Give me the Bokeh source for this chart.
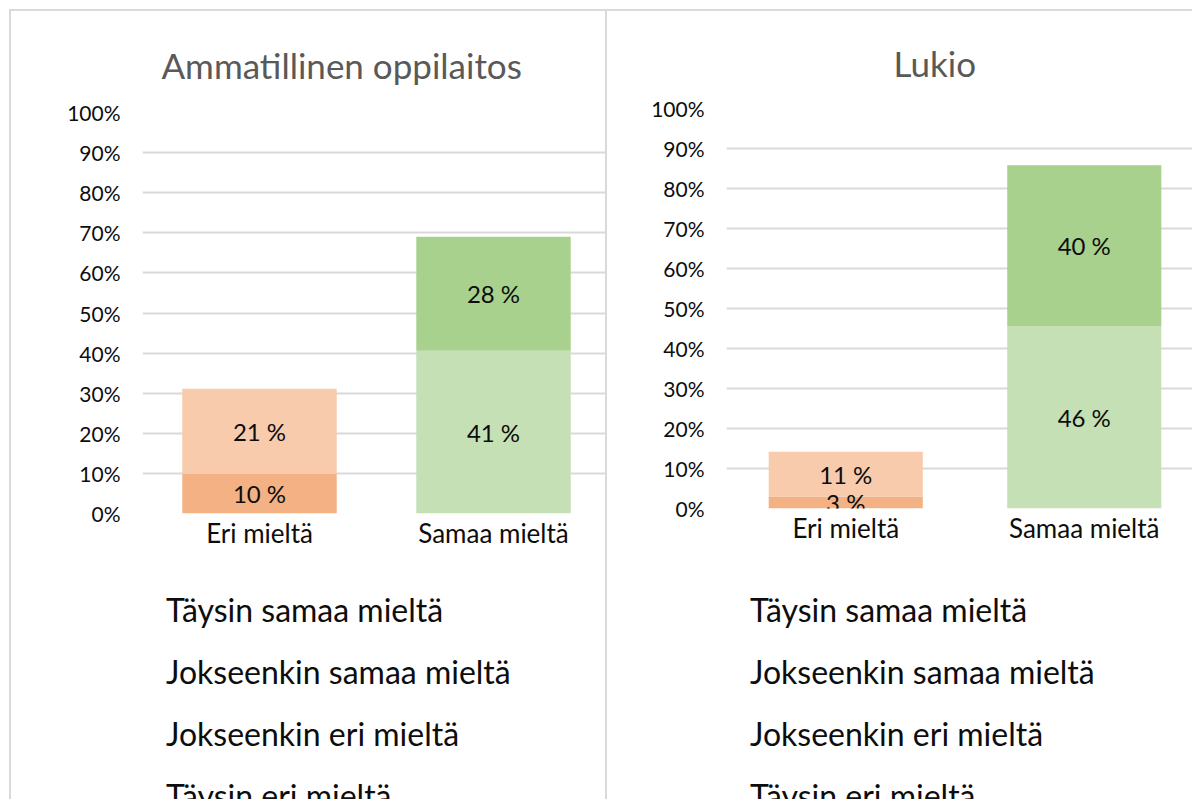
from bokeh.plotting import figure
from bokeh.models import (ColumnDataSource, FactorRange, Range1d, Legend, LegendItem, FixedTicker,
                          Div)
from bokeh.layouts import row, column
from bokeh.core.properties import value
from bokeh.embed import file_html
from bokeh.resources import INLINE

FONT = "Lato"
TXT = "#0d0d0d"

categories = ["Eri mieltä", "Samaa mieltä"]
series = ["Täysin eri mieltä", "Jokseenkin eri mieltä", "Jokseenkin samaa mieltä", "Täysin samaa mieltä"]
colors = ["#f4b183", "#f8cbad", "#c5e0b4", "#a9d18e"]

# Ammatillinen oppilaitos (percent)
amm_taysin_eri = [9.9, 0]
amm_jokseenkin_eri = [21.2, 0]
amm_jokseenkin_samaa = [0, 40.6]
amm_taysin_samaa = [0, 28.4]

# Lukio (percent)
lukio_taysin_eri = [3.0, 0]
lukio_jokseenkin_eri = [11.2, 0]
lukio_jokseenkin_samaa = [0, 45.6]
lukio_taysin_samaa = [0, 40.2]

y_ticks = [0, 10, 20, 30, 40, 50, 60, 70, 80, 90, 100]
y_tick_labels = ["0%", "10%", "20%", "30%", "40%", "50%", "60%", "70%", "80%", "90%", "100%"]

legend_order = [3, 2, 1, 0]   # Täysin samaa, Jokseenkin samaa, Jokseenkin eri, Täysin eri


def make_chart(title, data, fw, fh, bl, br, bt, bb, title_offset, title_standoff, bar_width):
    p = figure(x_range=FactorRange(*categories, range_padding=0), y_range=Range1d(0, 100),
               frame_width=fw, frame_height=fh, output_backend="svg", toolbar_location=None,
               min_border_left=bl, min_border_right=br, min_border_top=bt, min_border_bottom=bb)
    p.outline_line_color = None
    p.background_fill_color = "white"
    p.border_fill_color = "white"

    p.title.text = title
    p.title.align = "left"
    p.title.vertical_align = "bottom"
    p.title.offset = title_offset
    p.title.text_font = FONT
    p.title.text_font_size = "35px"
    p.title.text_font_style = "normal"
    p.title.text_color = "#595959"
    p.title.standoff = title_standoff

    src = ColumnDataSource(dict(cat=categories, **{s: v for s, v in zip(series, data)}))
    p.vbar_stack(series, x="cat", width=bar_width, fill_color=colors,
                 line_color=None, source=src)

    # data labels
    lx, ly, lt = [], [], []
    for i, c in enumerate(categories):
        base = 0
        for vals in data:
            v = vals[i]
            if v > 0:
                lx.append(c)
                ly.append(base + v / 2)
                lt.append(f"{round(v)} %")
            base += v
    p.text(x=lx, y=ly, text=lt, text_align="center", text_baseline="middle",
           text_font=value(FONT), text_font_size="24px", text_color=TXT)

    p.ygrid.ticker = FixedTicker(ticks=y_ticks)
    p.ygrid.grid_line_color = "#d9d9d9"
    p.ygrid.grid_line_width = 2
    p.xgrid.grid_line_color = None

    p.yaxis.ticker = FixedTicker(ticks=y_ticks)
    p.yaxis.major_label_overrides = {t: l for t, l in zip(y_ticks, y_tick_labels)}
    for ax in (p.xaxis, p.yaxis):
        ax.axis_line_color = None
        ax.major_tick_line_color = None
        ax.minor_tick_line_color = None
        ax.major_tick_out = 0
        ax.major_tick_in = 0
        ax.major_label_text_font = FONT
        ax.major_label_text_color = TXT
    p.yaxis.major_label_text_font_size = "21px"
    p.yaxis.major_label_standoff = 22
    p.xaxis.major_label_text_font_size = "26px"
    p.xaxis.major_label_standoff = 3
    return p


def make_legend(width, height, left, top):
    q = figure(width=width, height=height, x_range=Range1d(0, 1), y_range=Range1d(0, 1),
               output_backend="svg", toolbar_location=None,
               min_border_left=left, min_border_top=top, min_border_right=0, min_border_bottom=0)
    q.axis.visible = False
    q.grid.grid_line_color = None
    q.outline_line_color = None
    q.border_fill_color = "white"
    items = []
    for k in legend_order:
        r = q.vbar(x="x", top="top", width=0.5,
                   source=ColumnDataSource(dict(x=[], top=[])),
                   fill_color=colors[k], line_color=None)
        items.append(LegendItem(label=series[k], renderers=[r]))
    leg = Legend(items=items, location="top_left", orientation="vertical",
                 glyph_width=15, glyph_height=15, label_height=32, spacing=23,
                 label_standoff=9, padding=0, margin=0,
                 label_text_font=FONT, label_text_font_size="32px", label_text_color=TXT,
                 border_line_color=None, background_fill_alpha=0)
    q.add_layout(leg, "center")
    return q


H = 788
TOP_H = 546
p1 = make_chart("Ammatillinen oppilaitos",
                [amm_taysin_eri, amm_jokseenkin_eri, amm_jokseenkin_samaa, amm_taysin_samaa],
                468, 401, 99, 27, 101, TOP_H - 101 - 401, 19, 54, 0.66)
p2 = make_chart("Lukio",
                [lukio_taysin_eri, lukio_jokseenkin_eri, lukio_jokseenkin_samaa, lukio_taysin_samaa],
                477, 400, 81, 27, 97, TOP_H - 97 - 400, 167, 50, 0.646)
l1 = make_legend(594, H - TOP_H, 131, 33)
l2 = make_legend(585, H - TOP_H, 119, 33)


def line(w, h):
    return Div(text="", width=w, height=h, margin=0,
               styles={"background-color": "#d9d9d9"})


layout = column(line(2 + 594 + 2 + 585, 2),
                row(line(2, H),
                    column(p1, l1, margin=0, spacing=0),
                    line(2, H),
                    column(p2, l2, margin=0, spacing=0),
                    margin=0, spacing=0),
                margin=(9, 0, 0, 9), spacing=0)

open("out.html", "w").write(file_html(layout, INLINE))
